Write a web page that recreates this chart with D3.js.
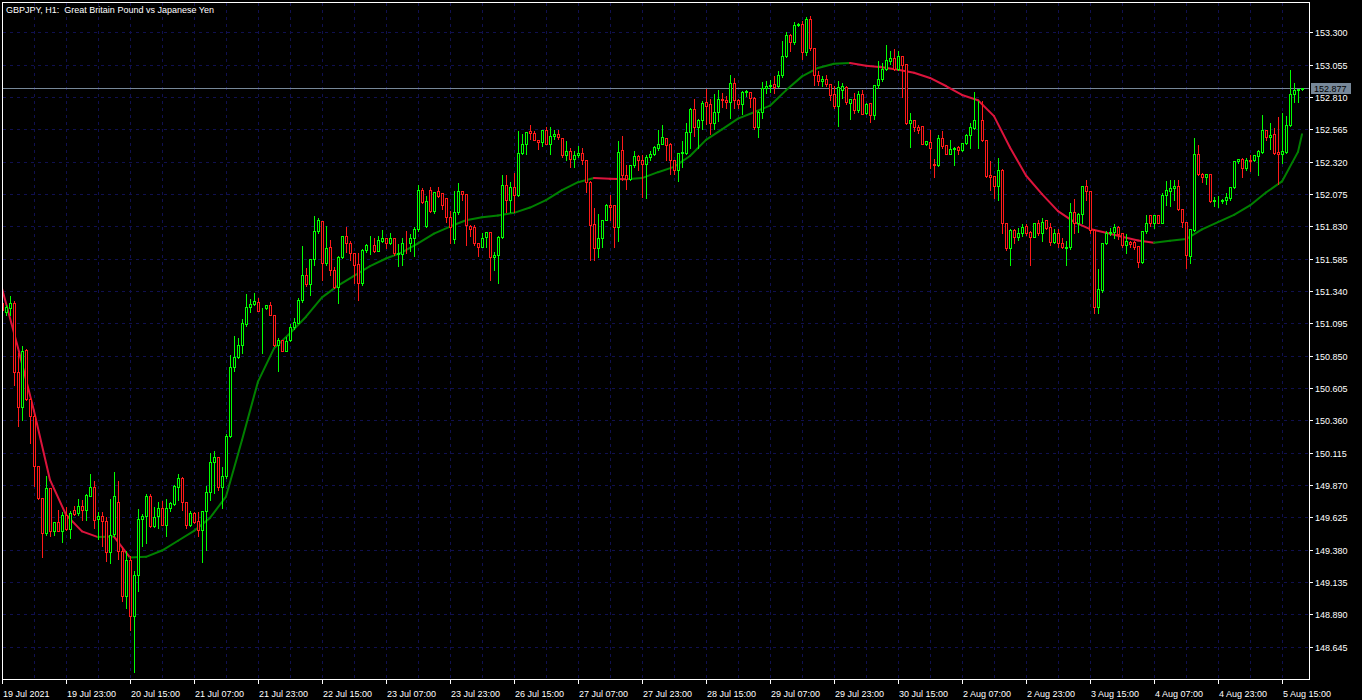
<!DOCTYPE html>
<html>
<head>
<meta charset="utf-8">
<script src="https://cdn.jsdelivr.net/npm/d3@7"></script>
<style>
  body { margin: 0; background: #000; }
  svg text { font-family: "Liberation Sans", Arial, sans-serif; font-size: 9px; fill: #fff; white-space: pre; }
</style>
</head>
<body>
<svg id="chart"></svg>
<script>
// GBPJPY H1 candles (bar 0 = 19 Jul 2021 07:00)
const opens = [
  151.246,151.183,151.208,151.246,150.729,150.459,150.893,150.519,150.393,150.010,
  149.770,149.505,149.846,149.523,149.586,149.518,149.644,149.535,149.682,149.656,
  149.712,149.677,149.788,149.853,149.611,149.636,149.593,149.361,149.497,149.740,
  149.366,149.026,149.303,148.879,149.190,149.611,149.636,149.788,149.560,149.631,
  149.694,149.568,149.694,149.727,149.858,149.921,149.737,149.568,149.656,149.593,
  149.530,149.669,149.813,150.042,150.085,149.858,149.934,150.242,150.761,150.837,
  150.928,151.089,151.221,151.238,151.258,151.208,151.208,151.231,151.158,150.930,
  150.968,150.888,150.968,151.069,151.099,151.271,151.460,151.390,151.579,151.796,
  151.872,151.549,151.670,151.498,151.367,151.599,151.755,151.705,151.624,151.543,
  151.397,151.649,151.687,151.692,151.644,151.720,151.738,151.700,151.742,151.619,
  151.619,151.705,151.700,151.745,151.806,152.103,151.831,152.103,151.945,152.096,
  152.083,152.048,151.897,151.730,151.940,152.098,152.073,151.831,151.821,151.705,
  151.670,151.750,151.785,151.594,151.612,151.750,152.141,152.028,152.124,152.066,
  152.386,152.452,152.553,152.537,152.487,152.469,152.558,152.452,152.512,152.532,
  152.502,152.368,152.401,152.343,152.373,152.389,152.336,152.167,151.851,151.662,
  151.738,151.876,151.990,151.990,151.826,152.406,152.217,152.192,152.293,152.361,
  152.336,152.300,152.356,152.376,152.426,152.457,152.502,152.452,152.336,152.255,
  152.386,152.386,152.545,152.722,152.583,152.638,152.772,152.755,152.613,152.696,
  152.797,152.790,152.772,152.919,152.790,152.760,152.848,152.848,152.805,152.583,
  152.696,152.881,152.891,152.906,152.891,152.979,153.118,153.277,153.226,153.352,
  153.365,153.151,153.403,153.183,152.974,152.931,152.949,152.911,152.830,152.739,
  152.866,152.886,152.765,152.797,152.709,152.835,152.689,152.765,152.671,152.898,
  152.949,153.024,153.082,153.108,153.024,153.118,153.057,152.613,152.638,152.583,
  152.588,152.452,152.469,152.300,152.293,152.502,152.444,152.381,152.419,152.431,
  152.406,152.462,152.520,152.578,152.633,152.638,152.487,152.217,152.210,152.134,
  152.260,151.857,151.663,151.801,151.751,151.781,151.832,151.789,151.751,151.852,
  151.776,151.877,151.822,151.713,151.776,151.705,151.663,151.670,151.940,151.852,
  151.922,152.134,152.096,151.801,151.221,151.347,151.700,151.776,151.789,151.827,
  151.776,151.688,151.713,151.713,151.680,151.562,151.796,151.915,151.852,151.915,
  151.857,152.066,152.099,152.117,152.134,151.958,151.864,151.604,151.801,152.381,
  152.230,152.200,152.225,152.023,152.028,152.023,152.033,152.041,152.124,152.326,
  152.341,152.268,152.336,152.331,152.361,152.394,152.558,152.503,152.528,152.394,
  152.377,152.394,152.596,152.836,152.866,152.870
];
const highs = [
  151.258,151.238,151.309,151.271,150.880,150.928,150.905,150.539,150.413,150.015,
  149.775,149.946,149.858,149.593,149.687,149.669,149.712,149.682,149.719,149.770,
  149.762,149.808,149.964,149.909,149.669,149.669,149.636,149.770,149.977,149.909,
  149.404,149.374,149.341,149.227,149.694,149.661,149.808,149.808,149.707,149.745,
  149.757,149.770,149.745,149.878,149.964,149.934,149.745,149.682,149.669,149.669,
  149.682,149.871,150.123,150.136,150.093,150.010,150.262,150.862,151.006,150.994,
  151.132,151.322,151.284,151.334,151.296,151.221,151.241,151.266,151.163,150.989,
  150.973,150.999,151.099,151.145,151.296,151.687,151.523,151.587,151.914,151.902,
  151.877,151.839,151.730,151.528,151.612,151.763,151.831,151.725,151.637,151.637,
  151.662,151.700,151.763,151.750,151.763,151.808,151.742,151.788,151.750,151.700,
  151.750,151.801,151.780,151.831,152.154,152.129,152.066,152.134,152.098,152.134,
  152.083,152.053,151.952,152.103,152.166,152.108,152.078,151.851,151.851,151.712,
  151.788,151.796,151.796,151.644,151.763,152.230,152.230,152.174,152.242,152.563,
  152.537,152.553,152.603,152.563,152.495,152.563,152.588,152.588,152.570,152.570,
  152.507,152.487,152.431,152.406,152.444,152.431,152.343,152.179,151.977,151.927,
  151.889,152.003,152.078,151.995,152.487,152.520,152.305,152.305,152.411,152.376,
  152.381,152.381,152.411,152.449,152.570,152.608,152.507,152.469,152.343,152.394,
  152.487,152.621,152.734,152.805,152.654,152.790,152.881,152.805,152.840,152.873,
  152.848,152.823,152.987,152.961,152.805,152.860,152.873,152.853,152.815,152.709,
  152.931,152.941,152.949,152.974,153.017,153.244,153.310,153.294,153.385,153.378,
  153.395,153.421,153.428,153.188,153.017,152.974,152.987,152.916,152.898,152.936,
  152.924,152.898,152.805,152.848,152.860,152.873,152.772,152.772,152.911,153.093,
  153.075,153.214,153.168,153.183,153.163,153.125,153.062,152.696,152.646,152.603,
  152.588,152.482,152.570,152.351,152.527,152.563,152.457,152.495,152.437,152.444,
  152.469,152.537,152.621,152.855,152.790,152.785,152.495,152.331,152.217,152.356,
  152.268,151.864,151.814,151.814,151.827,151.857,151.852,151.801,151.857,151.882,
  151.902,151.882,151.864,151.814,151.814,151.751,151.726,152.016,152.041,151.940,
  152.142,152.192,152.104,151.814,151.511,151.713,151.801,151.827,151.857,151.839,
  151.781,151.776,151.726,151.726,151.688,151.801,151.922,151.922,151.922,151.922,
  152.091,152.180,152.192,152.192,152.192,151.965,151.872,151.814,152.503,152.457,
  152.243,152.235,152.230,152.059,152.066,152.041,152.091,152.134,152.336,152.351,
  152.356,152.356,152.381,152.376,152.412,152.679,152.558,152.621,152.583,152.664,
  152.697,152.672,153.025,152.924,152.881,152.880
];
const lows = [
  151.175,151.158,151.158,150.628,150.317,150.363,150.514,150.191,149.863,149.765,
  149.321,149.492,149.480,149.492,149.518,149.434,149.530,149.467,149.644,149.644,
  149.606,149.606,149.783,149.543,149.460,149.404,149.291,149.278,149.480,149.311,
  148.988,148.937,148.773,148.450,149.063,149.404,149.429,149.550,149.555,149.543,
  149.568,149.480,149.669,149.719,149.757,149.682,149.543,149.560,149.581,149.480,
  149.283,149.379,149.757,149.808,149.828,149.694,149.921,150.237,150.736,150.835,
  150.872,151.074,151.183,151.233,151.188,150.872,151.200,151.158,150.923,150.736,
  150.888,150.888,150.963,151.049,151.094,151.258,151.377,151.309,151.536,151.781,
  151.422,151.536,151.460,151.359,151.251,151.586,151.637,151.574,151.397,151.271,
  151.384,151.637,151.617,151.637,151.644,151.712,151.662,151.695,151.612,151.531,
  151.536,151.624,151.644,151.606,151.796,152.003,151.821,151.940,151.927,152.053,
  151.960,151.864,151.700,151.700,151.922,152.028,151.687,151.755,151.687,151.606,
  151.670,151.675,151.422,151.498,151.397,151.745,151.940,151.940,151.940,152.060,
  152.381,152.376,152.495,152.482,152.419,152.437,152.452,152.381,152.495,152.495,
  152.356,152.331,152.280,152.280,152.356,152.305,152.091,151.574,151.574,151.599,
  151.675,151.876,151.876,151.670,151.720,152.179,152.116,152.179,152.280,152.255,
  152.053,152.048,152.331,152.368,152.406,152.452,152.331,152.230,152.230,152.174,
  152.280,152.380,152.426,152.512,152.426,152.570,152.608,152.532,152.570,152.628,
  152.734,152.729,152.654,152.729,152.729,152.684,152.815,152.734,152.570,152.507,
  152.654,152.840,152.848,152.840,152.886,152.961,153.113,153.158,153.214,153.345,
  153.100,153.125,153.163,152.898,152.898,152.891,152.891,152.790,152.729,152.588,
  152.805,152.755,152.646,152.689,152.696,152.679,152.679,152.621,152.646,152.881,
  152.931,153.017,153.062,153.017,153.017,152.810,152.608,152.431,152.553,152.537,
  152.452,152.444,152.275,152.200,152.285,152.426,152.376,152.376,152.293,152.381,
  152.401,152.457,152.426,152.570,152.426,152.477,152.205,152.104,152.048,152.028,
  151.776,151.650,151.536,151.705,151.726,151.756,151.763,151.536,151.746,151.763,
  151.721,151.806,151.688,151.705,151.670,151.663,151.536,151.655,151.781,151.789,
  151.852,152.033,151.776,151.171,151.171,151.335,151.695,151.763,151.738,151.731,
  151.675,151.625,151.675,151.655,151.524,151.554,151.781,151.832,151.814,151.852,
  151.852,151.991,151.983,152.028,151.953,151.827,151.511,151.549,151.796,152.218,
  152.167,152.149,152.016,151.983,151.978,152.008,151.998,152.028,152.117,152.306,
  152.205,152.260,152.250,152.326,152.218,152.387,152.487,152.419,152.377,152.154,
  152.311,152.387,152.588,152.773,152.773,152.865
];
const closes = [
  151.195,151.221,151.251,150.729,150.459,150.888,150.519,150.393,150.010,149.770,
  149.505,149.846,149.523,149.586,149.518,149.644,149.535,149.661,149.651,149.712,
  149.677,149.795,149.853,149.601,149.636,149.593,149.361,149.487,149.788,149.366,
  149.026,149.303,148.879,149.190,149.611,149.636,149.788,149.560,149.626,149.694,
  149.568,149.694,149.732,149.863,149.921,149.737,149.568,149.656,149.586,149.530,
  149.669,149.813,150.042,150.085,149.858,149.939,150.242,150.761,150.837,150.928,
  151.094,151.221,151.241,151.264,151.190,151.213,151.231,151.158,150.930,150.968,
  150.888,150.963,151.069,151.107,151.271,151.460,151.390,151.579,151.796,151.877,
  151.549,151.662,151.498,151.367,151.594,151.755,151.705,151.624,151.536,151.397,
  151.654,151.692,151.692,151.644,151.725,151.742,151.700,151.738,151.624,151.624,
  151.700,151.700,151.745,151.806,152.103,152.015,152.020,151.945,152.088,152.058,
  151.990,151.897,151.826,151.940,152.098,152.073,151.839,151.813,151.705,151.670,
  151.745,151.785,151.594,151.612,151.750,152.141,152.028,152.124,152.066,152.386,
  152.452,152.545,152.537,152.487,152.469,152.558,152.457,152.512,152.532,152.507,
  152.368,152.401,152.343,152.373,152.389,152.336,152.167,151.839,151.662,151.738,
  151.876,151.990,151.977,151.826,152.394,152.217,152.192,152.293,152.361,152.336,
  152.300,152.356,152.381,152.431,152.457,152.507,152.444,152.336,152.255,152.386,
  152.394,152.545,152.722,152.583,152.638,152.765,152.739,152.613,152.696,152.797,
  152.785,152.772,152.919,152.785,152.760,152.848,152.853,152.805,152.583,152.696,
  152.881,152.891,152.903,152.886,152.979,153.118,153.277,153.226,153.352,153.365,
  153.151,153.403,153.183,152.974,152.931,152.949,152.911,152.823,152.739,152.886,
  152.891,152.772,152.797,152.714,152.835,152.684,152.760,152.671,152.898,152.949,
  153.024,153.087,153.108,153.024,153.118,153.050,152.613,152.638,152.583,152.563,
  152.457,152.474,152.426,152.293,152.502,152.437,152.376,152.419,152.426,152.406,
  152.462,152.525,152.583,152.633,152.638,152.482,152.210,152.205,152.134,152.260,
  151.857,151.663,151.801,151.751,151.781,151.827,151.781,151.751,151.852,151.776,
  151.864,151.814,151.713,151.776,151.705,151.670,151.670,151.940,151.852,151.922,
  152.134,152.099,151.801,151.221,151.352,151.705,151.776,151.789,151.827,151.771,
  151.688,151.721,151.695,151.675,151.562,151.796,151.852,151.852,151.915,151.857,
  152.066,152.104,152.117,152.134,151.958,151.864,151.612,151.806,152.381,152.225,
  152.200,152.225,152.023,152.028,152.033,152.033,152.049,152.129,152.326,152.341,
  152.268,152.336,152.326,152.369,152.402,152.558,152.503,152.520,152.387,152.377,
  152.402,152.596,152.836,152.866,152.874,152.877
];

// moving average line, read every 4th bar
const maBars = [0,4,8,12,16,20,24,28,32,36,40,44,48,52,56,60,64,68,72,76,80,84,88,92,96,100,
  104,108,112,116,120,124,128,132,136,140,144,148,152,156,160,164,168,172,176,180,184,188,192,196,200,
  204,208,212,216,220,224,228,232,236,240,244,248,252,256,260,264,268,272,276,280,284,288,292,296,300,
  304,308,312,316,320,324,325];
const maValues = [151.359,150.910,150.430,149.908,149.644,149.518,149.475,149.479,149.320,149.325,
  149.373,149.447,149.522,149.620,149.782,150.211,150.653,150.905,151.019,151.145,151.291,151.380,
  151.455,151.528,151.586,151.632,151.700,151.775,151.828,151.876,151.899,151.912,151.932,151.972,
  152.028,152.104,152.164,152.196,152.190,152.186,152.195,152.240,152.280,152.363,152.485,152.565,
  152.646,152.694,152.744,152.860,152.966,153.030,153.062,153.067,153.047,153.035,153.017,152.994,
  152.954,152.893,152.825,152.785,152.665,152.427,152.215,152.074,151.945,151.864,151.809,151.781,
  151.751,151.723,151.705,151.720,151.733,151.806,151.862,151.917,151.988,152.086,152.170,152.394,152.528];

const priceTicks = [148.645,148.890,149.135,149.380,149.625,149.870,150.115,150.360,150.605,150.850,
  151.095,151.340,151.585,151.830,152.075,152.320,152.565,152.810,153.055,153.300];
const timeLabels = ['19 Jul 2021','19 Jul 23:00','20 Jul 15:00','21 Jul 07:00','21 Jul 23:00','22 Jul 15:00',
  '23 Jul 07:00','23 Jul 23:00','26 Jul 15:00','27 Jul 07:00','27 Jul 23:00','28 Jul 15:00','29 Jul 07:00',
  '29 Jul 23:00','30 Jul 15:00','2 Aug 07:00','2 Aug 23:00','3 Aug 15:00','4 Aug 07:00','4 Aug 23:00','5 Aug 15:00'];
const lastPrice = 152.877;
const title = 'GBPJPY, H1:  Great Britain Pound vs Japanese Yen';

const W = 1362, H = 700;
const pLeft = 2, pTop = 2, pRight = 1309, pBottom = 679;

const upColor = '#00ff00', downColor = '#ff1a1a';
const maUp = '#008000', maDown = '#dc143c';
const gridColor = '#101050';

const svg = d3.select('#chart').attr('width', W).attr('height', H)
  .style('background', '#000');

// bar index -> pixel column, 4px per bar
const x = d3.scaleLinear().domain([0, 1]).range([2, 6]);
const y = d3.scaleLinear().domain([148.645, 153.300]).range([646.6, 32.3]);
const py = v => Math.round(y(v)) + 0.5;

svg.append('defs').append('clipPath').attr('id', 'plot')
  .append('rect').attr('x', pLeft + 1).attr('y', pTop + 1)
  .attr('width', pRight - pLeft - 1).attr('height', pBottom - pTop - 1);

// grid
const grid = svg.append('g').attr('stroke', gridColor).attr('stroke-dasharray', '3,4')
  .attr('shape-rendering', 'crispEdges');
grid.selectAll('.h').data(priceTicks).enter().append('line')
  .attr('x1', pLeft + 1).attr('x2', pRight).attr('y1', d => py(d)).attr('y2', d => py(d));
grid.selectAll('.v').data(d3.range(8, opens.length, 8)).enter().append('line')
  .attr('x1', d => x(d) + 0.5).attr('x2', d => x(d) + 0.5).attr('y1', pTop + 1).attr('y2', pBottom);

const plot = svg.append('g').attr('clip-path', 'url(#plot)');

// last price line
plot.append('line').attr('x1', pLeft).attr('x2', pRight).attr('y1', py(lastPrice)).attr('y2', py(lastPrice))
  .attr('stroke', '#778899').attr('shape-rendering', 'crispEdges');

// moving average, colored by direction
const maPts = maBars.map((b, i) => [x(b), y(maValues[i])]);
const maG = plot.append('g').attr('fill', 'none').attr('stroke-width', 2);
for (let i = 1; i < maPts.length; i++) {
  maG.append('path')
    .attr('d', d3.line()([maPts[i - 1], maPts[i]]))
    .attr('stroke', maValues[i] >= maValues[i - 1] ? maUp : maDown)
    .attr('stroke-linecap', 'round');
}

// candles
const bars = d3.range(opens.length);
const isUp = i => closes[i] >= opens[i];
const cg = plot.append('g').attr('shape-rendering', 'crispEdges');
cg.selectAll('.wick').data(bars).enter().append('line')
  .attr('x1', i => x(i) + 0.5).attr('x2', i => x(i) + 0.5)
  .attr('y1', i => py(highs[i])).attr('y2', i => py(lows[i]))
  .attr('stroke', i => isUp(i) ? upColor : downColor);
cg.selectAll('.body').data(bars).enter().append('rect')
  .attr('x', i => x(i) - 0.5).attr('width', 2)
  .attr('y', i => py(Math.max(opens[i], closes[i])))
  .attr('height', i => py(Math.min(opens[i], closes[i])) - py(Math.max(opens[i], closes[i])))
  .attr('fill', '#000')
  .attr('stroke', i => isUp(i) ? upColor : downColor);

// frame
svg.append('rect').attr('x', pLeft + 0.5).attr('y', pTop + 0.5)
  .attr('width', pRight - pLeft).attr('height', pBottom - pTop)
  .attr('fill', 'none').attr('stroke', '#fff').attr('shape-rendering', 'crispEdges');

// price axis
const ya = svg.append('g');
ya.selectAll('line').data(priceTicks).enter().append('line')
  .attr('x1', pRight).attr('x2', pRight + 4).attr('y1', d => py(d)).attr('y2', d => py(d))
  .attr('stroke', '#fff').attr('shape-rendering', 'crispEdges');
ya.selectAll('text').data(priceTicks).enter().append('text')
  .attr('x', pRight + 6).attr('y', d => py(d) + 3.5)
  .text(d => d3.format('.3f')(d));

// last price tag
const ly = py(lastPrice);
svg.append('rect').attr('x', pRight + 2).attr('y', ly - 5.5).attr('width', 40).attr('height', 11)
  .attr('fill', '#778899');
svg.append('text').attr('x', pRight + 5).attr('y', ly + 3.5).style('fill', '#000')
  .text(d3.format('.3f')(lastPrice));

// time axis
const xa = svg.append('g');
const tickBars = timeLabels.map((t, k) => k * 16);
xa.selectAll('line').data(tickBars).enter().append('line')
  .attr('x1', d => x(d) + 0.5).attr('x2', d => x(d) + 0.5).attr('y1', pBottom).attr('y2', pBottom + 5)
  .attr('stroke', '#fff').attr('shape-rendering', 'crispEdges');
xa.selectAll('text').data(tickBars).enter().append('text')
  .attr('x', d => x(d) + 1).attr('y', 697)
  .text((d, k) => timeLabels[k]);

// title
svg.append('text').attr('x', 6).attr('y', 13).text(title);
</script>
</body>
</html>
